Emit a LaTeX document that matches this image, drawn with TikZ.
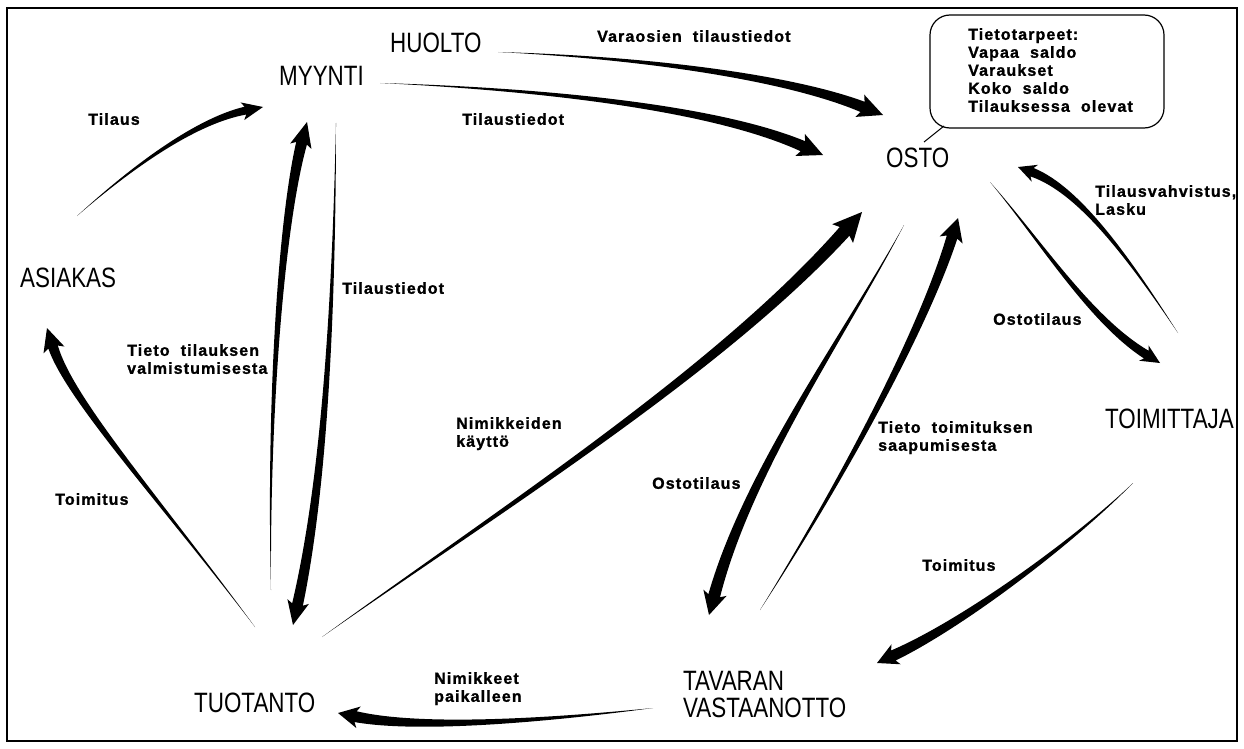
\documentclass[tikz,border=0pt]{standalone}
\usepackage{fontspec}
\setmainfont{Liberation Sans}
\newfontfamily\namefont[FakeStretch=0.8]{Liberation Sans}
\newfontfamily\labelfont[LetterSpace=7,WordSpace=2,BoldFeatures={FakeBold=1.2}]{Liberation Sans}
\usetikzlibrary{calc}

% Tapered flow arrow: thin at the source, widening towards a barbed head.
% #1 start, #2 first control (x,y), #3 second control (x,y), #4 tip,
% #5 shaft half width at the head, #6 head half width, #7 head length
\newcommand\flowarrow[7]{%
  \pgfmathsetmacro\flowwa{#5/3}%
  \pgfmathsetmacro\flowwb{2*#5/3}%
  \pgfmathsetmacro\flowbk{#7+3}%
  \coordinate (flow-e) at ($(#4)!#7pt!(#3)$);
  \coordinate (flow-b) at ($(#4)!\flowbk pt!(#3)$);
  \fill[flowshape] (#1)
    .. controls ($(#2)!\flowwa pt!-90:(#3)$) and ($(#3)!\flowwb pt!-90:(flow-e)$)
    .. ($(flow-e)!#5pt!90:(#3)$)
    -- ($(flow-b)!#6pt!90:(#3)$) -- (#4) -- ($(flow-b)!#6pt!-90:(#3)$)
    -- ($(flow-e)!#5pt!-90:(#3)$)
    .. controls ($(#3)!\flowwb pt!90:(flow-e)$) and ($(#2)!\flowwa pt!90:(#3)$)
    .. (#1) -- cycle;
}

\tikzset{
  place/.style={font=\namefont\fontsize{28}{27}\selectfont, inner sep=0pt},
  place2/.style={place, align=left, anchor=north west},
  flowlabel/.style={font=\labelfont\bfseries\fontsize{16}{18}\selectfont,
    inner sep=0pt, align=left, anchor=north west},
  frame/.style={line width=2.5pt},
  bubble/.style={draw, line width=1.2pt, rounded corners=20pt,
    minimum width=234pt, minimum height=113pt, inner sep=0pt},
  flowshape/.style={fill=black},
}

\begin{document}
\begin{tikzpicture}[x=1pt,y=-1pt]
\useasboundingbox (0,0) rectangle (1244,749);
\draw[frame] (7,8) rectangle (1237,741);

% functions
\node[place, anchor=base west] (myynti)   at (279,86)  {MYYNTI};
\node[place, anchor=base west] (huolto)   at (390,53)  {HUOLTO};
\node[place, anchor=base west] (asiakas)  at (20,287)  {ASIAKAS};
\node[place, anchor=base west] (osto)     at (886,167) {OSTO};
\node[place, anchor=base west] (toimittaja) at (1105,428) {TOIMITTAJA};
\node[place2] (vastaanotto) at (683,671) {TAVARAN\\VASTAANOTTO};
\node[place, anchor=base west] (tuotanto) at (194,712) {TUOTANTO};

% information needs of purchasing
\node[bubble] (tarpeet) at (1047,71.5) {};
\node[flowlabel] (tarpeetteksti) at (968,28)
  {Tietotarpeet:\\Vapaa saldo\\Varaukset\\Koko saldo\\Tilauksessa olevat};
\coordinate (tarpeet-kanta) at (944,126);
\coordinate (tarpeet-osto) at (924,142);
\draw[line width=1pt] (tarpeet-kanta) -- (tarpeet-osto);

% flow labels
\node[flowlabel] at (88,113)  {Tilaus};
\node[flowlabel] at (597,30)  {Varaosien tilaustiedot};
\node[flowlabel] at (462,113) {Tilaustiedot};
\node[flowlabel] at (342,282) {Tilaustiedot};
\node[flowlabel] at (127,344) {Tieto tilauksen\\valmistumisesta};
\node[flowlabel] at (55,493)  {Toimitus};
\node[flowlabel] at (456,417) {Nimikkeiden\\käyttö};
\node[flowlabel] at (652,477) {Ostotilaus};
\node[flowlabel] at (878,421) {Tieto toimituksen\\saapumisesta};
\node[flowlabel] at (922,559) {Toimitus};
\node[flowlabel] at (434,672) {Nimikkeet\\paikalleen};
\node[flowlabel] at (993,313) {Ostotilaus};
\node[flowlabel] at (1095,185) {Tilausvahvistus,\\Lasku};

% arrow end points
\coordinate (asiakas-out)   at (77,216);
\coordinate (myynti-in1)    at (263,107);
\coordinate (huolto-out)    at (498,52);
\coordinate (osto-in1)      at (883,115);
\coordinate (myynti-out1)   at (380,83);
\coordinate (osto-in2)      at (823,155);
\coordinate (tuotanto-out1) at (271,590);
\coordinate (myynti-in2)    at (307,122);
\coordinate (myynti-out2)   at (336,123);
\coordinate (tuotanto-in1)  at (293,625);
\coordinate (tuotanto-out2) at (255,627);
\coordinate (asiakas-in)    at (47,328);
\coordinate (tuotanto-out3) at (322,637);
\coordinate (osto-in3)      at (862,212);
\coordinate (osto-out1)     at (904,225);
\coordinate (vastaanotto-in1) at (709,615);
\coordinate (vastaanotto-out1) at (760,610);
\coordinate (osto-in4)      at (958,218);
\coordinate (osto-out2)     at (990,182);
\coordinate (toimittaja-in) at (1160,363);
\coordinate (toimittaja-out1) at (1178,333);
\coordinate (osto-in5)      at (1018,167);
\coordinate (toimittaja-out2) at (1133,483);
\coordinate (vastaanotto-in2) at (877,663);
\coordinate (vastaanotto-out2) at (653,708);
\coordinate (tuotanto-in2)  at (338,713);

% flows
\flowarrow{asiakas-out}{140,160}{200,120}{myynti-in1}{4}{9}{18}
\flowarrow{huolto-out}{650,58}{790,78}{osto-in1}{5.5}{12}{22}
\flowarrow{myynti-out1}{560,90}{720,110}{osto-in2}{5.5}{12}{22}
\flowarrow{tuotanto-out1}{268,400}{282,220}{myynti-in2}{5.5}{11}{22}
\flowarrow{myynti-out2}{334,300}{325,480}{tuotanto-in1}{5.5}{11}{21}
\flowarrow{tuotanto-out2}{160,500}{70,400}{asiakas-in}{5}{11}{20}
\flowarrow{tuotanto-out3}{500,510}{720,370}{osto-in3}{6.5}{14}{26}
\flowarrow{osto-out1}{845,335}{748,470}{vastaanotto-in1}{6}{12}{20}
\flowarrow{vastaanotto-out1}{830,500}{920,340}{osto-in4}{5.5}{12}{20}
\flowarrow{osto-out2}{1040,240}{1090,320}{toimittaja-in}{4.5}{9}{16}
\flowarrow{toimittaja-out1}{1130,260}{1080,190}{osto-in5}{4.5}{9}{15}
\flowarrow{toimittaja-out2}{1070,545}{960,625}{vastaanotto-in2}{5.5}{11}{18}
\flowarrow{vastaanotto-out2}{550,720}{420,730}{tuotanto-in2}{5.5}{11}{18}
\end{tikzpicture}
\end{document}
